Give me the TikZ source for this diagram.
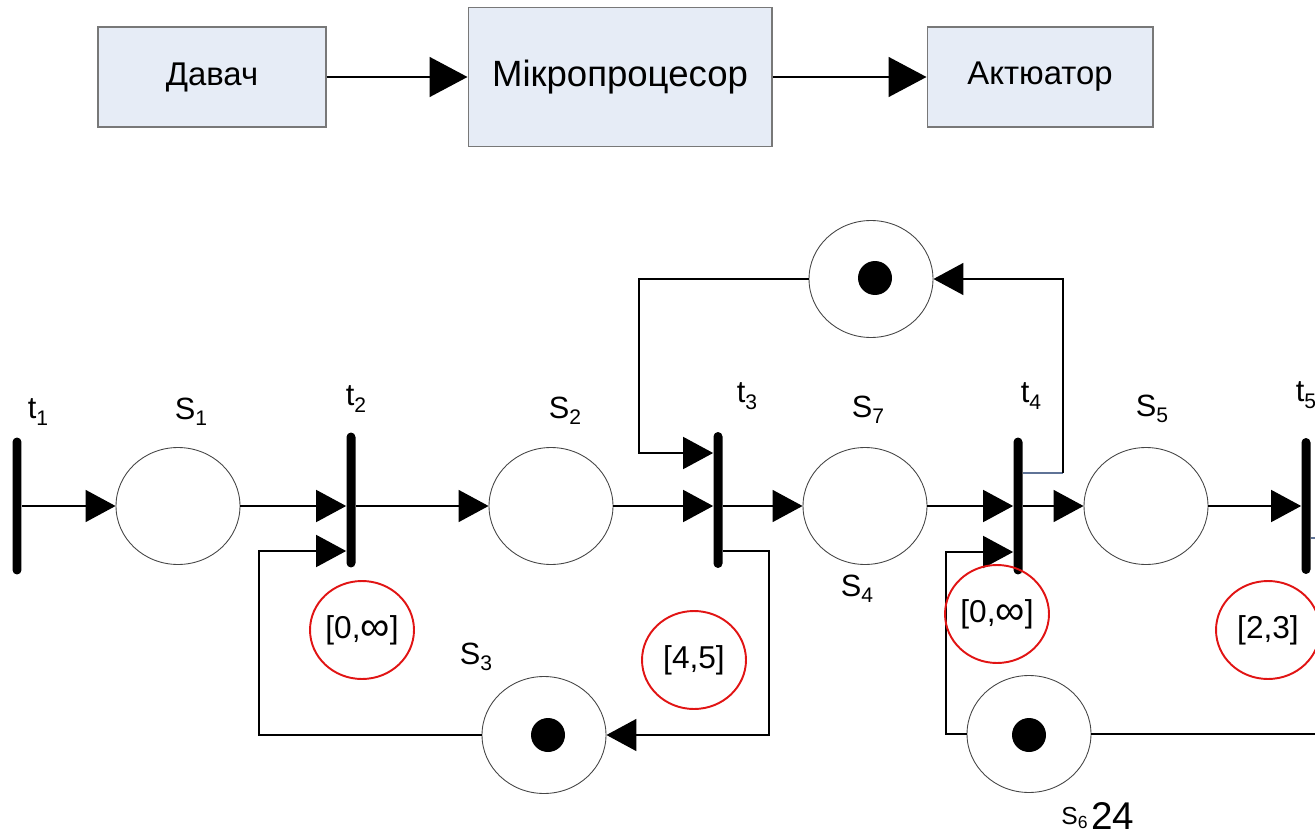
\documentclass[tikz,border=0pt]{standalone}
\usepackage{fontspec}
\setmainfont{Liberation Sans}
\usetikzlibrary{arrows.meta,shapes.geometric}
\definecolor{boxfill}{RGB}{230,236,246}
\definecolor{boxdraw}{RGB}{120,120,120}
\definecolor{bluish}{RGB}{95,115,150}
\definecolor{placedraw}{RGB}{70,70,70}
\definecolor{redring}{RGB}{225,20,20}
\newcommand{\pl}[2]{#1{\fontsize{12pt}{12pt}\selectfont\raisebox{-0.3em}{#2}}}
\newcommand{\infsym}{\raisebox{-0.08em}{\scalebox{1.3}{∞}}}
\begin{document}
\begin{tikzpicture}[x=0.02cm,y=-0.02cm,
  box/.style={rectangle, draw=boxdraw, fill=boxfill, line width=0.6pt, inner sep=0pt, font=\fontsize{18.7pt}{21pt}\selectfont},
  bigarr/.style={line width=0.9pt, -{Triangle[length=0.76cm,width=0.8cm]}},
  arr/.style={line width=0.9pt, -{Triangle[length=0.6cm,width=0.64cm]}},
  conn/.style={line width=0.9pt},
  place/.style={ellipse, draw=placedraw, line width=0.5pt, fill=white, minimum width=2.48cm, minimum height=2.34cm, inner sep=0pt},
  token/.style={circle, fill=black, minimum size=0.68cm, inner sep=0pt},
  trans/.style={rectangle, fill=black, rounded corners=0.09cm, minimum width=0.18cm, inner sep=0pt},
  ring/.style={ellipse, draw=redring, line width=1.1pt, minimum width=2.08cm, minimum height=1.96cm, inner sep=0pt, font=\fontsize{18pt}{18pt}\selectfont},
  lab/.style={inner sep=0pt, font=\fontsize{17.5pt}{17.5pt}\selectfont}]
\useasboundingbox (0,0) rectangle (1315,838);
\clip (0,0) rectangle (1315,838);

% top block diagram
\node[box, minimum width=4.56cm, minimum height=2cm] (dav) at (212,77) {Давач};
\node[box, minimum width=6.08cm, minimum height=2.78cm, font=\fontsize{20.8pt}{23pt}\selectfont] (mp) at (620,77) {\raisebox{0.15em}{Мікропроцесор}};
\node[box, minimum width=4.52cm, minimum height=2cm] (act) at (1040,77) {Актюатор};
\draw[bigarr] (dav.east) -- (mp.west);
\draw[bigarr] (mp.east) -- (act.west);

% places
\node[place] (S1) at (178,506) {};
\node[place] (S2) at (551,506) {};
\node[place] (S7) at (865,506) {};
\node[place] (S5) at (1146,506) {};
\node[place] (P) at (871,279) {};
\node[place] (S3) at (544,735) {};
\node[place] (S6) at (1029,734) {};
\node[token] (k1) at (875,278) {};
\node[token] (k2) at (548,735) {};
\node[token] (k3) at (1029,735) {};

% transitions
\node[trans, minimum height=2.74cm] (t1) at (17,506) {};
\node[trans, minimum height=2.7cm] (t2) at (351,500) {};
\node[trans, minimum height=2.72cm] (t3) at (718,500) {};
\node[trans, minimum height=2.74cm] (t4) at (1018,506) {};
\node[trans, minimum height=2.72cm] (t5) at (1306,506) {};

% helper coordinates
\coordinate (c1) at (259,551);
\coordinate (c2) at (769,551);
\coordinate (c3) at (639,453);
\coordinate (c4) at (1063,473);
\coordinate (c5) at (946,552);
\coordinate (c6) at (1330,734);
\coordinate (c7) at (1330,538);

% arcs along the main line
\draw[arr] (S1.west -| t1.east) -- (S1.west);
\draw[arr] (S1.east) -- (S1.east -| t2.west);
\draw[arr] (S2.west -| t2.east) -- (S2.west);
\draw[arr] (S2.east) -- (S2.east -| t3.west);
\draw[arr] (S7.west -| t3.east) -- (S7.west);
\draw[arr] (S7.east) -- (S7.east -| t4.west);
\draw[arr] (S5.west -| t4.east) -- (S5.west);
\draw[arr] (S5.east) -- (S5.east -| t5.west);

% loops
\draw[arr] (S3.west) -| (c1) -- (c1 -| t2.west);
\draw[arr] (c2 -| t3.east) -- (c2) |- (S3.east);
\draw[arr] (P.west) -| (c3) -- (c3 -| t3.west);
\draw[bluish, line width=0.8pt] (c4 -| t4.east) -- (c4);
\draw[arr] (c4) |- (P.east);
\draw[arr] (S6.west) -| (c5) -- (c5 -| t4.west);
\draw[conn] (S6.east) -- (c6);
\draw[bluish, line width=0.8pt] (c7 -| t5.east) -- (c7);

% red time intervals
\node[ring] (r1) at (362,630) {[0,\infsym]};
\node[ring] (r2) at (694,660) {[4,5]};
\node[ring] (r3) at (997,614) {[0,\infsym]};
\node[ring] (r4) at (1268,630) {[2,3]};

% labels
\node[lab] (lt1) at (38,412) {\pl{t}{1}};
\node[lab] (lS1) at (191,412) {\pl{S}{1}};
\node[lab] (lt2) at (356,399) {\pl{t}{2}};
\node[lab] (lS2) at (565,411) {\pl{S}{2}};
\node[lab] (lt3) at (747,396) {\pl{t}{3}};
\node[lab] (lS7) at (868,410) {\pl{S}{7}};
\node[lab] (lt4) at (1031,396) {\pl{t}{4}};
\node[lab] (lS5) at (1152,409) {\pl{S}{5}};
\node[lab] (lt5) at (1306,395) {\pl{t}{5}};
\node[lab] (lS4) at (857,589) {\pl{S}{4}};
\node[lab] (lS3) at (476,657) {\pl{S}{3}};
\node[anchor=base west, inner sep=0pt, font=\fontsize{14pt}{14pt}\selectfont] (lS6) at (1061,824) {S{\fontsize{10pt}{10pt}\selectfont\raisebox{-0.25em}{6}}};
\node[anchor=base west, inner sep=0pt, font=\fontsize{22pt}{22pt}\selectfont] (n24) at (1091,829) {24};
\end{tikzpicture}
\end{document}
